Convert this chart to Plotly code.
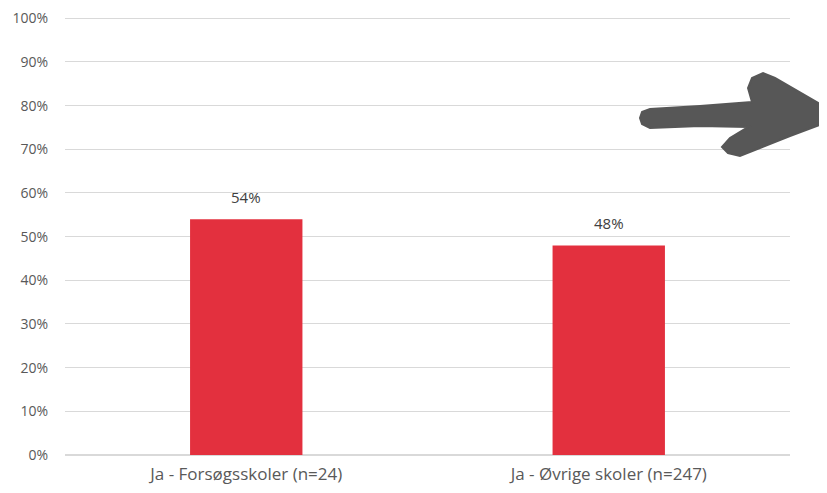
import plotly.graph_objects as go

categories = ["Ja - Forsøgsskoler (n=24)", "Ja - Øvrige skoler (n=247)"]
values = [54, 48]
tick_vals = [0, 10, 20, 30, 40, 50, 60, 70, 80, 90, 100]
tick_text = [f"{v}%" for v in tick_vals]

# page offset of the figure (body margin)
OFF = 8
W, H = 827 - 2 * OFF, 493 - 2 * OFF
# target plot area in page pixels
PL, PR, PT, PB = 65, 790, 17, 455
ML, MR, MT, MB = PL - OFF, W - (PR - OFF), PT - OFF, H - (PB - OFF)

def px2paper(x, y):
    return (x - PL) / (PR - PL), (PB - y) / (PB - PT)

arrow_px = [(642, 112), (650, 109), (700, 106), (752, 102), (748, 88), (752, 78), (763, 73),
            (775, 78), (820, 104), (827, 115), (822, 124), (790, 136), (740, 156), (728, 153),
            (722, 147), (730, 138), (748, 127), (700, 126), (650, 128), (642, 124), (640, 118)]
pts = [px2paper(x, y) for x, y in arrow_px]
path = "M " + " L ".join(f"{x:.4f},{y:.4f}" for x, y in pts) + " Z"

fig = go.Figure(go.Bar(
    x=categories, y=values,
    marker=dict(color="#e3303e", line=dict(width=0)),
    width=0.31,
))
for c, v in zip(categories, values):
    fig.add_annotation(x=c, y=v, text=f"{v}%", showarrow=False, yanchor="bottom",
                       yshift=10, font=dict(size=15, color="#404040"))
fig.update_layout(
    width=W, height=H,
    margin=dict(l=ML, r=MR, t=MT, b=MB, autoexpand=False),
    plot_bgcolor="white", paper_bgcolor="white",
    font=dict(family="Open Sans, sans-serif", size=14, color="#595959"),
    showlegend=False,
    shapes=[dict(type="path", path=path, xref="paper", yref="paper",
                 fillcolor="#575757", line=dict(color="#575757", width=2))],
)
fig.update_yaxes(range=[0, 100.3], tickvals=tick_vals, ticktext=tick_text,
                 showgrid=True, gridcolor="#d9d9d9", gridwidth=1,
                 zeroline=True, zerolinecolor="#d9d9d9", ticks="outside", ticklen=13,
                 tickcolor="white", automargin=False,
                 tickfont=dict(size=14, color="#595959"))
fig.update_xaxes(showgrid=False, tickfont=dict(size=17, color="#595959"),
                 ticks="outside", ticklen=4, tickcolor="white", automargin=False)
fig.write_html("out.html")
